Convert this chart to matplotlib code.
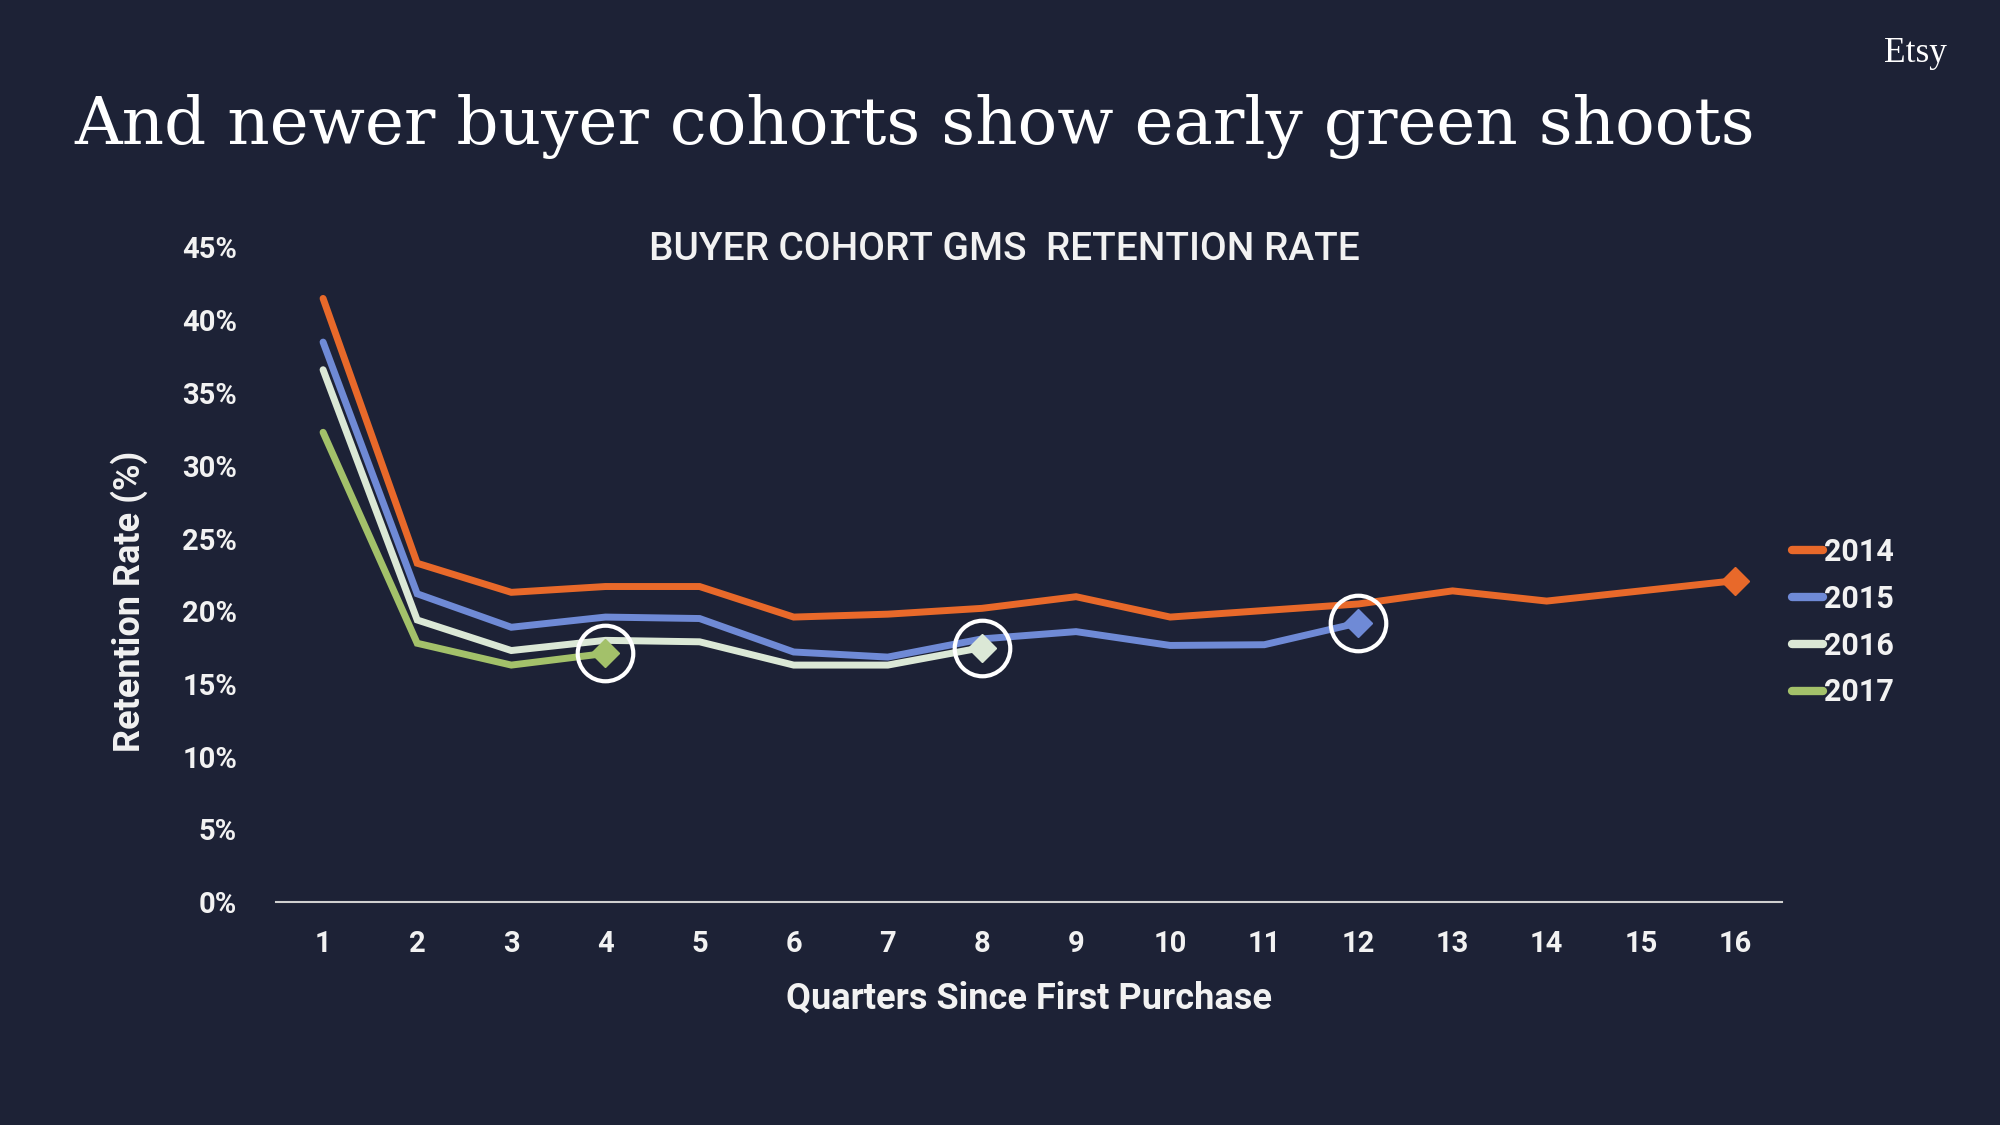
import matplotlib
matplotlib.use("Agg")
import matplotlib.pyplot as plt
from matplotlib.ticker import FuncFormatter

# retention rate (%) by quarter since first purchase, per buyer cohort
quarters = list(range(1, 17))
c2014 = [41.5, 23.3, 21.3, 21.7, 21.7, 19.6, 19.8, 20.2, 21.0, 19.6, 20.05, 20.5, 21.4, 20.7, 21.4, 22.1]
c2015 = [38.5, 21.2, 18.9, 19.6, 19.5, 17.2, 16.85, 18.1, 18.6, 17.65, 17.7, 19.2]
c2016 = [36.6, 19.4, 17.3, 18.0, 17.9, 16.3, 16.3, 17.5]
c2017 = [32.3, 17.8, 16.3, 17.1]
labels = ["2014", "2015", "2016", "2017"]
colors = ["#e8692a", "#6f8ad6", "#dbe8d6", "#a3c16a"]
yticks = [0, 5, 10, 15, 20, 25, 30, 35, 40, 45]

bg = "#1d2236"
txt = "#f2f2f2"

fig = plt.figure(figsize=(20, 11.25), dpi=100, facecolor=bg)
ax = fig.add_axes([0.138, 0.198, 0.753, 0.582], facecolor=bg)

series = [c2014, c2015, c2016, c2017]
for vals, lab, col in zip(series, labels, colors):
    xs = quarters[:len(vals)]
    ax.plot(xs, vals, color=col, lw=5, label=lab, solid_capstyle="round", solid_joinstyle="miter")
    ax.plot(xs[-1], vals[-1], marker="D", color=col, markersize=14, ls="none")

# highlight circles around the latest point of the newer cohorts
for vals in series[1:]:
    ax.plot(len(vals), vals[-1], marker="o", ms=40, mfc="none", mec="white", mew=3, ls="none")

ax.set_xlim(0.5, 16.5)
ax.set_ylim(0, 45)
ax.set_xticks(quarters)
ax.set_yticks(yticks)
ax.yaxis.set_major_formatter(FuncFormatter(lambda v, p: f"{int(v)}%"))
for s in ["top", "right", "left"]:
    ax.spines[s].set_visible(False)
ax.spines["bottom"].set_color("#d0d0d0")
ax.spines["bottom"].set_linewidth(1.5)
ax.tick_params(length=0, colors=txt, labelsize=21)
ax.tick_params(axis="y", pad=28)
ax.tick_params(axis="x", pad=20)
for t in ax.get_xticklabels() + ax.get_yticklabels():
    t.set_fontfamily("Roboto")
    t.set_fontweight("bold")

ax.set_ylabel("Retention Rate (%)", fontsize=26, color=txt, family="Roboto", weight="bold")
ax.yaxis.set_label_coords(-0.085, 0.46)
ax.set_xlabel("Quarters Since First Purchase", fontsize=26, color=txt, family="Roboto", weight="bold", labelpad=16)

leg = ax.legend(loc="center left", bbox_to_anchor=(0.8885, 0.447), bbox_transform=fig.transFigure,
                frameon=False, borderpad=0, handlelength=1.0, handletextpad=0.05, labelspacing=0.55,
                prop={"family": "Roboto", "size": 22, "weight": "bold"})
for t in leg.get_texts():
    t.set_color(txt)
for h in leg.get_lines():
    h.set_linewidth(6)

fig.text(0.502, 0.778, "BUYER COHORT GMS  RETENTION RATE", ha="center", va="center",
         color=txt, fontsize=28, family="Roboto", weight="medium")
fig.text(0.037, 0.872, "And newer buyer cohorts show early green shoots", ha="left", va="baseline",
         color="white", fontsize=47.4, family="DejaVu Serif")
fig.text(0.942, 0.952, "Etsy", ha="left", va="center", color="white", fontsize=25.5, family="Liberation Serif")

fig.savefig("out.png", dpi=100, facecolor=bg)
